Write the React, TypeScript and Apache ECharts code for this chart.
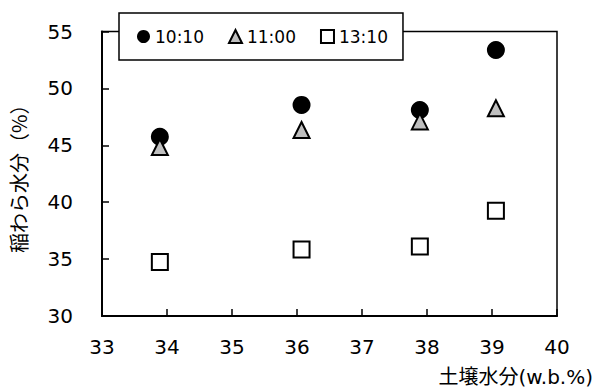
import React, { useEffect, useRef } from "react";
import * as echarts from "echarts";

// Soil moisture (w.b.%) at each sampling plot
const soilMoisture = [33.89, 36.07, 37.89, 39.06];

// Rice straw moisture (%) at three times of day
const straw1010 = [45.75, 48.55, 48.1, 53.37];
const straw1100 = [44.85, 46.35, 47.1, 48.25];
const straw1310 = [34.75, 35.85, 36.1, 39.25];

const seriesNames = ["10:10", "11:00", "13:10"];

const FONT = "'DejaVu Sans', 'Noto Sans CJK JP', sans-serif";
const CJK_FONT = "'Noto Sans CJK JP', 'DejaVu Sans', sans-serif";

export default function App() {
  const ref = useRef<HTMLDivElement>(null);

  useEffect(() => {
    if (!ref.current) return;
    const chart = echarts.init(ref.current, undefined, { renderer: "svg" });

    const pairs = (ys: number[]) => soilMoisture.map((x, i) => [x, ys[i]]);

    chart.setOption({
      animation: false,
      backgroundColor: "#fff",
      textStyle: { fontFamily: FONT, color: "#000" },
      grid: {
        left: 97,
        right: 38,
        top: 31.5,
        bottom: 76,
        show: true,
        borderColor: "#000",
        borderWidth: 1.5,
      },
      legend: {
        left: 119,
        top: 13,
        orient: "horizontal",
        itemWidth: 13,
        itemHeight: 13,
        itemGap: 24,
        padding: [15, 15, 15, 18],
        borderColor: "#000",
        borderWidth: 1.5,
        backgroundColor: "#fff",
        textStyle: { fontSize: 17, fontFamily: FONT, color: "#000" },
        data: seriesNames,
      },
      xAxis: {
        type: "value",
        min: 33,
        max: 40,
        interval: 1,
        axisLine: { show: true, lineStyle: { color: "#000", width: 2 } },
        axisTick: { show: true, inside: true, length: 7, lineStyle: { color: "#000", width: 1.5 } },
        axisLabel: { fontSize: 20, margin: 21, color: "#000", fontFamily: FONT },
        splitLine: { show: false },
      },
      yAxis: {
        type: "value",
        min: 30,
        max: 55,
        interval: 5,
        name: "稲わら水分（%）",
        nameLocation: "middle",
        nameGap: 74,
        nameRotate: 90,
        nameTextStyle: { fontSize: 20, color: "#000", fontFamily: CJK_FONT },
        axisLine: { show: true, lineStyle: { color: "#000", width: 2 } },
        axisTick: { show: true, inside: true, length: 7, lineStyle: { color: "#000", width: 1.5 } },
        axisLabel: { fontSize: 20, margin: 29, color: "#000", fontFamily: FONT },
        splitLine: { show: false },
      },
      graphic: [
        {
          type: "text",
          right: 2,
          top: 367,
          style: {
            text: "土壌水分(w.b.%)",
            font: `20px ${FONT}`,
            fill: "#000",
          },
        },
      ],
      series: [
        {
          name: seriesNames[0],
          type: "scatter",
          symbol: "circle",
          symbolSize: 18,
          itemStyle: { color: "#000", opacity: 1 },
          data: pairs(straw1010),
          z: 2,
        },
        {
          name: seriesNames[1],
          type: "scatter",
          symbol: "triangle",
          symbolSize: 16,
          itemStyle: { color: "#bfbfbf", borderColor: "#000", borderWidth: 2, opacity: 1 },
          data: pairs(straw1100),
          z: 3,
        },
        {
          name: seriesNames[2],
          type: "scatter",
          symbol: "rect",
          symbolSize: 16,
          itemStyle: { color: "#fff", borderColor: "#000", borderWidth: 2, opacity: 1 },
          data: pairs(straw1310),
          z: 3,
        },
      ],
    });

    return () => chart.dispose();
  }, []);

  return (
    <div
      ref={ref}
      style={{ position: "absolute", left: 0, top: 0, width: 595, height: 392 }}
    />
  );
}
